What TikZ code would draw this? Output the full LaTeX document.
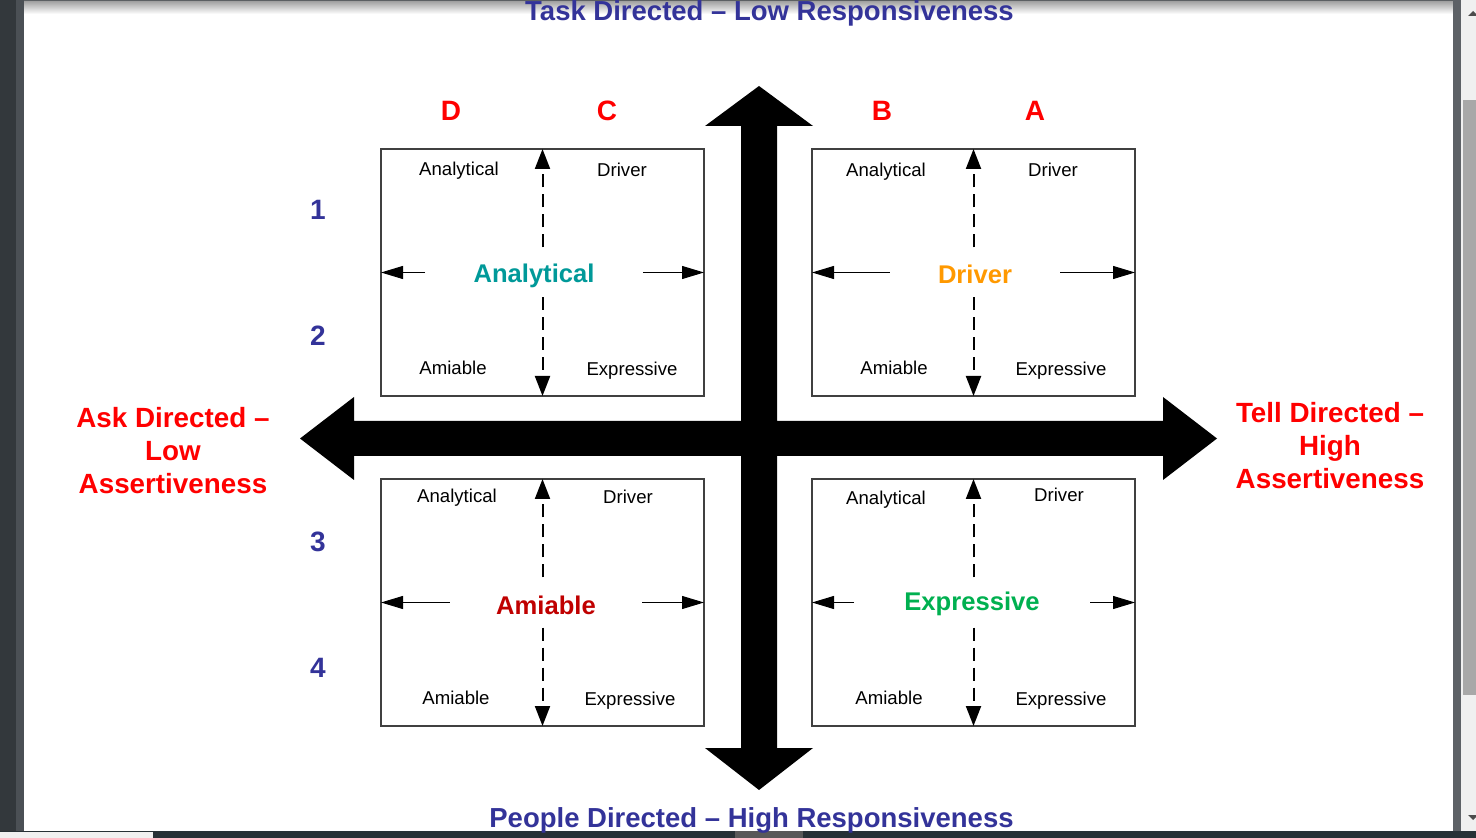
\documentclass[tikz,border=0pt]{standalone}
\usepackage{fontspec}
\setmainfont{Liberation Sans}
\usetikzlibrary{arrows.meta,calc}
\definecolor{navy}{RGB}{51,51,153}
\definecolor{anacol}{RGB}{0,153,153}
\definecolor{drvcol}{RGB}{255,153,0}
\definecolor{amicol}{RGB}{192,0,0}
\definecolor{expcol}{RGB}{0,176,80}
\definecolor{chrome}{RGB}{51,56,60}
\definecolor{chromeb}{RGB}{75,80,85}
\definecolor{barcol}{RGB}{39,49,54}

\begin{document}
\begin{tikzpicture}[x=0.5pt, y=-0.5pt,
  quad/.style={draw=black!75, line width=0.6pt, minimum width=161.5pt, minimum height=123.5pt, inner sep=0pt, outer sep=0pt},
  corner/.style={font=\fontsize{9.3}{11}\selectfont, inner sep=0pt, text height=6.7pt, text depth=0pt},
  typelab/.style={font=\fontsize{12.8}{15}\selectfont\bfseries, inner sep=0pt, text height=9.2pt, text depth=0pt},
  axis/.style={font=\fontsize{13.75}{16}\selectfont\bfseries, text=navy, inner sep=0pt, text height=9.85pt, text depth=0pt},
  gridlab/.style={font=\fontsize{14}{16}\selectfont\bfseries, inner sep=0pt, text height=10pt, text depth=0pt},
  side/.style={font=\fontsize{13.9}{16.5}\selectfont\bfseries, text=red, align=center, inner sep=0pt},
  dasharr/.style={-{Triangle[length=10pt, width=7.5pt]}, line width=1pt, dash pattern=on 6.5pt off 3.5pt},
  thinarr/.style={-{Triangle[length=11pt, width=6.5pt]}, line width=0.5pt}]
\useasboundingbox (0,0) rectangle (1476,838);
\fill[white] (0,0) rectangle (1476,838);
\shade[top color=black!40, bottom color=white] (24,0) rectangle (1453,14);
\fill[chrome!80] (24,0) rectangle (1453,1.5);
\fill[chrome] (0,0) rectangle (16,838);
\fill[chromeb] (16,0) rectangle (24,838);
\fill[chromeb!90] (1453,0) rectangle (1461,838);
\fill[black!6] (1461,0) rectangle (1476,838);
\fill[black!34] (1463,100) rectangle (1476,695);
\fill[black!70] (1468,16) -- (1473,11) -- (1478,16) -- cycle;
\fill[black!70] (1468,815) -- (1478,815) -- (1473,820) -- cycle;
\fill[barcol] (0,831) rectangle (1476,838);
\fill[black!6] (0,832) rectangle (153,838);
\fill[black!65] (735,831) rectangle (803,838);

\fill (759,86) -- (813,126) -- (777,126) -- (777,421) -- (1163,421) -- (1163,397) -- (1217,438.5)
  -- (1163,480) -- (1163,456) -- (777,456) -- (777,748) -- (813,748) -- (759,790) -- (705,748)
  -- (741,748) -- (741,456) -- (354,456) -- (354,480) -- (300,438.5) -- (354,397) -- (354,421)
  -- (741,421) -- (741,126) -- (705,126) -- cycle;

\node[axis] (task) at (769.5,11) {Task Directed -- Low Responsiveness};
\node[axis] (people) at (751.5,818) {People Directed -- High Responsiveness};
\node[side] (ask) at (173,451) {Ask Directed --\\Low\\Assertiveness};
\node[side] (tell) at (1330,446) {Tell Directed --\\High\\Assertiveness};

\node[gridlab, text=red] (colD) at (451,111) {D};
\node[gridlab, text=red] (colC) at (607,111) {C};
\node[gridlab, text=red] (colB) at (882,111) {B};
\node[gridlab, text=red] (colA) at (1035,111) {A};
\node[gridlab, text=navy] (row1) at (318,210) {1};
\node[gridlab, text=navy] (row2) at (318,336) {2};
\node[gridlab, text=navy] (row3) at (318,542) {3};
\node[gridlab, text=navy] (row4) at (318,667) {4};

\node[quad] (tl) at (542.5,272.5) {};
\node[quad] (tr) at (973.5,272.5) {};
\node[quad] (bl) at (542.5,602.5) {};
\node[quad] (br) at (973.5,602.5) {};

\node[typelab, text=anacol] (ana) at (534,273) {Analytical};
\node[typelab, text=drvcol] (drv) at (975,274) {Driver};
\node[typelab, text=amicol] (ami) at (546,605) {Amiable};
\node[typelab, text=expcol] (exp) at (972,601) {Expressive};

\node[corner] (tlA) at (459,169) {Analytical};
\node[corner] (tlD) at (622,170) {Driver};
\node[corner] (tlM) at (453,368) {Amiable};
\node[corner] (tlE) at (632,369) {Expressive};
\node[corner] (trA) at (886,170) {Analytical};
\node[corner] (trD) at (1053,170) {Driver};
\node[corner] (trM) at (894,368) {Amiable};
\node[corner] (trE) at (1061,369) {Expressive};
\node[corner] (blA) at (457,496) {Analytical};
\node[corner] (blD) at (628,497) {Driver};
\node[corner] (blM) at (456,698) {Amiable};
\node[corner] (blE) at (630,699) {Expressive};
\node[corner] (brA) at (886,498) {Analytical};
\node[corner] (brD) at (1059,495) {Driver};
\node[corner] (brM) at (889,698) {Amiable};
\node[corner] (brE) at (1061,699) {Expressive};

\draw[dasharr] ([yshift=12.5pt]tl.center) -- (tl.north);
\draw[dasharr] ([yshift=-12.5pt]tl.center) -- (tl.south);
\draw[dasharr] ([yshift=12.5pt]tr.center) -- (tr.north);
\draw[dasharr] ([yshift=-12.5pt]tr.center) -- (tr.south);
\draw[dasharr] ([yshift=12.5pt]bl.center) -- (bl.north);
\draw[dasharr] ([yshift=-12.5pt]bl.center) -- (bl.south);
\draw[dasharr] ([yshift=12.5pt]br.center) -- (br.north);
\draw[dasharr] ([yshift=-12.5pt]br.center) -- (br.south);
\draw[thinarr] ($(ana.west |- tl.center)+(-48,0)$) -- (tl.west);
\draw[thinarr] ($(ana.east |- tl.center)+(48,0)$) -- (tl.east);
\draw[thinarr] ($(drv.west |- tr.center)+(-48,0)$) -- (tr.west);
\draw[thinarr] ($(drv.east |- tr.center)+(48,0)$) -- (tr.east);
\draw[thinarr] ($(ami.west |- bl.center)+(-46,0)$) -- (bl.west);
\draw[thinarr] ($(ami.east |- bl.center)+(46,0)$) -- (bl.east);
\draw[thinarr] ($(exp.west |- br.center)+(-50,0)$) -- (br.west);
\draw[thinarr] ($(exp.east |- br.center)+(50,0)$) -- (br.east);
\end{tikzpicture}
\end{document}
